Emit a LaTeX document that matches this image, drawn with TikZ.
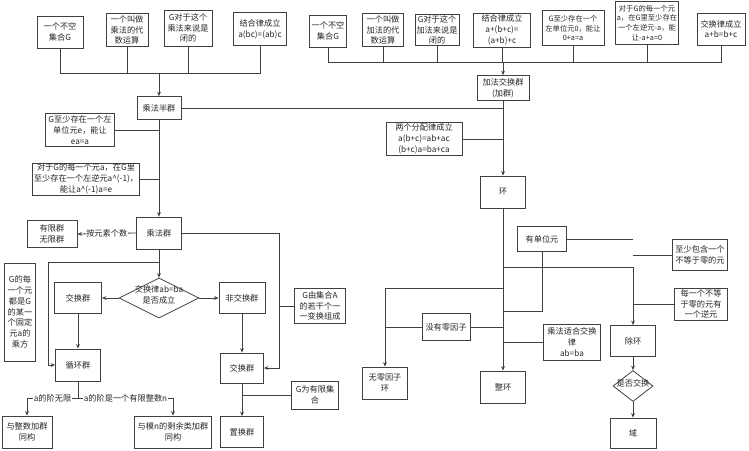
\documentclass[tikz,border=0pt]{standalone}
\usepackage{fontspec}
\setmainfont{Noto Sans CJK SC}
\usetikzlibrary{arrows.meta,shapes.geometric}
\newcommand\dfs{\fontsize{8.2}{10.8}\selectfont}
\newcommand\sfs{\fontsize{7.3}{9.8}\selectfont}
\newcommand\dtext[1]{\smash{\makebox[0pt]{\begin{tabular}{@{}c@{}}#1\end{tabular}}}}
\tikzset{
  bx/.style={draw=black!75, line width=0.8pt, align=center, inner sep=1pt, font=\dfs, text=black!85},
  dia/.style={draw=black!75, line width=0.8pt, shape=diamond, inner sep=0pt, font=\dfs, text=black!85},
  ln/.style={draw=black!75, line width=0.8pt},
  arr/.style={ln, -{Stealth[length=4.5pt,width=3.8pt]}},
  lbl/.style={fill=white, inner sep=0.5pt, font=\dfs, text=black!85}
}
\begin{document}
\begin{tikzpicture}[x=1pt,y=-1pt]
\useasboundingbox (0,0) rectangle (749,450);
% ---- multiplication side
\node[bx, minimum width=46pt, minimum height=32pt] (m1) at (60,32) {一个不空\\集合G};
\node[bx, minimum width=42pt, minimum height=33pt] (m2) at (127,30) {一个叫做\\乘法的代\\数运算};
\node[bx, minimum width=48pt, minimum height=36pt] (m3) at (188,28) {G对于这个\\乘法来说是\\闭的};
\node[bx, minimum width=53pt, minimum height=33pt] (m4) at (260,29) {结合律成立\\a(bc)=(ab)c};
\node[bx, minimum width=44pt, minimum height=23pt] (sg) at (159,108) {乘法半群};
\node[bx, minimum width=69pt, minimum height=33pt] (e1) at (80,130) {G至少存在一个左\\单位元e，能让\\ea=a};
\node[bx, minimum width=107pt, minimum height=32pt] (e2) at (86,179) {对于G的每一个元a，在G里\\至少存在一个左逆元a\^{}(-1)，\\能让a\^{}(-1)a=e};
\node[bx, minimum width=45pt, minimum height=32pt] (mg) at (159,233) {乘法群};
\node[bx, minimum width=50pt, minimum height=27pt] (fin) at (52,234) {有限群\\无限群};
\node[dia, minimum width=80pt, minimum height=40pt] (d1) at (159,298) {\dtext{交换律ab=ba\\是否成立}};
\node[bx, minimum width=47pt, minimum height=31pt] (ab1) at (78,298) {交换群};
\node[bx, minimum width=46pt, minimum height=31pt] (nab) at (242,298) {非交换群};
\node[bx, minimum width=51pt, minimum height=35pt] (gA) at (320,306) {G由集合A\\的若干个一\\一变换组成};
\node[bx, minimum width=45pt, minimum height=32pt] (cyc) at (78,365) {循环群};
\node[bx, minimum width=31pt, minimum height=98pt] (gcyc) at (20,312) {G的每\\一个元\\都是G\\的某一\\个固定\\元a的\\乘方};
\node[bx, minimum width=43pt, minimum height=30pt] (ab2) at (242,368) {交换群};
\node[bx, minimum width=43pt, minimum height=31pt] (perm) at (242,432) {置换群};
\node[bx, minimum width=47pt, minimum height=28pt] (gfin) at (315,395) {G为有限集\\合};
\node[bx, minimum width=50pt, minimum height=32pt] (iso1) at (27,432) {与整数加群\\同构};
\node[bx, minimum width=77pt, minimum height=32pt] (iso2) at (173,432) {与模n的剩余类加群\\同构};
% ---- addition side
\node[bx, minimum width=37pt, minimum height=32pt] (a1) at (328,31) {一个不空\\集合G};
\node[bx, minimum width=41pt, minimum height=33pt] (a2) at (383,30) {一个叫做\\加法的代\\数运算};
\node[bx, minimum width=44pt, minimum height=31pt] (a3) at (437,30) {G对于这个\\加法来说是\\闭的};
\node[bx, minimum width=57pt, minimum height=34pt] (a4) at (502,30) {结合律成立\\a+(b+c)=\\(a+b)+c};
\node[bx, minimum width=62pt, minimum height=35pt, font=\sfs] (a5) at (573,28) {G至少存在一个\\左单位元0，能让\\0+a=a};
\node[bx, minimum width=60pt, minimum height=43pt, font=\sfs] (a6) at (647,23) {对于G的每一个元\\a，在G里至少存在\\一个左逆元-a，能\\让-a+a=0};
\node[bx, minimum width=48pt, minimum height=32pt] (a7) at (721,29) {交换律成立\\a+b=b+c};
\node[bx, minimum width=52pt, minimum height=25pt] (ag) at (503,88) {加法交换群\\(加群)};
\node[bx, minimum width=76pt, minimum height=33pt] (dist) at (424,139) {两个分配律成立\\a(b+c)=ab+ac\\(b+c)a=ba+ca};
\node[bx, minimum width=45pt, minimum height=32pt] (ring) at (503,192) {环};
\node[bx, minimum width=49pt, minimum height=25pt] (unit) at (542,239) {有单位元};
\node[bx, minimum width=55pt, minimum height=31pt] (nz1) at (700,255) {至少包含一个\\不等于零的元};
\node[bx, minimum width=53pt, minimum height=32pt] (inv) at (701,304) {每一个不等\\于零的元有\\一个逆元};
\node[bx, minimum width=45pt, minimum height=31pt] (divr) at (633,341) {除环};
\node[dia, minimum width=40pt, minimum height=31pt] (d2) at (633,386) {\dtext{是否交换}};
\node[bx, minimum width=46pt, minimum height=30pt] (field) at (633,433) {域};
\node[bx, minimum width=48pt, minimum height=27pt] (nzd) at (446,327) {没有零因子};
\node[bx, minimum width=45pt, minimum height=32pt] (nzr) at (385,383) {无零因子\\环};
\node[bx, minimum width=57pt, minimum height=36pt] (comm) at (572,342) {乘法适合交换\\律\\ab=ba};
\node[bx, minimum width=45pt, minimum height=32pt] (intr) at (503,387) {整环};
% ---- coordinates
\coordinate (j1) at (159,73);
\coordinate (j2) at (503,62);
\coordinate (j3) at (159,262);
\coordinate (k1) at (48,262);
\coordinate (k2) at (279,233);
\coordinate (k3) at (78,398);
\coordinate (r1) at (503,267);
\coordinate (r2) at (503,288);
\coordinate (r3) at (503,311);
% ---- connectors, multiplication side
\draw[ln] (m1.south) -- (m1.south |- j1) -- (m4.south |- j1) -- (m4.south);
\draw[ln] (m2.south) -- (m2.south |- j1);
\draw[ln] (m3.south) -- (m3.south |- j1);
\draw[arr] (j1) -- (sg.north);
\draw[arr] (sg.south) -- (mg.north);
\draw[ln] (e1.east) -- (e1.east -| sg.south);
\draw[ln] (e2.east) -- (e2.east -| sg.south);
\draw[arr] (mg.west) -- node[lbl]{按元素个数} (fin.east);
\draw[arr] (mg.south) -- (d1.north);
\draw[arr] (j3) -- (k1) |- (cyc.west);
\draw[arr] (d1.west) -- (ab1.east);
\draw[arr] (d1.east) -- (nab.west);
\draw[arr] (ab1.south) -- (cyc.north);
\draw[arr] (mg.east) -- (k2) |- (ab2.east);
\draw[ln] (gA.west) -- (gA.west -| k2);
\draw[arr] (nab.south) -- (ab2.north);
\draw[arr] (ab2.south) -- (perm.north);
\draw[ln] (gfin.west) -- (gfin.west -| perm.north);
\draw[ln] (cyc.south) -- (k3);
\draw[arr] (k3) -- node[lbl]{a的阶无限} (iso1.north |- k3) -- (iso1.north);
\draw[arr] (k3) -- node[lbl]{a的阶是一个有限整数n} (iso2.north |- k3) -- (iso2.north);
% ---- connectors, addition side
\draw[ln] (a1.south) -- (a1.south |- j2) -- (a7.south |- j2) -- (a7.south);
\draw[ln] (a2.south) -- (a2.south |- j2);
\draw[ln] (a3.south) -- (a3.south |- j2);
\draw[ln] (a4.south) -- (a4.south |- j2);
\draw[ln] (a5.south) -- (a5.south |- j2);
\draw[ln] (a6.south) -- (a6.south |- j2);
\draw[arr] (j2) -- (ag.north);
\draw[arr] (ag.south) -- (ring.north);
\draw[ln] (sg.east) -- (sg.east -| ring.north);
\draw[ln] (dist.east) -- (dist.east -| ring.north);
% ---- ring side
\draw[arr] (ring.south) -- (intr.north);
\draw[arr] (r1) -| (divr.north);
\draw[ln] (unit.east) -- (unit.east -| divr.north);
\draw[ln] (nz1.west) -- (nz1.west -| divr.north);
\draw[ln] (inv.west) -- (inv.west -| divr.north);
\draw[ln] (unit.south) |- (r3);
\draw[arr] (r2) -| (nzr.north);
\draw[ln] (nzd.east) -- (nzd.east -| ring.south);
\draw[ln] (nzd.west) -- (nzd.west -| nzr.north);
\draw[ln] (comm.west) -- (comm.west -| ring.south);
\draw[arr] (divr.south) -- (d2.north);
\draw[arr] (d2.south) -- (field.north);
\end{tikzpicture}
\end{document}
